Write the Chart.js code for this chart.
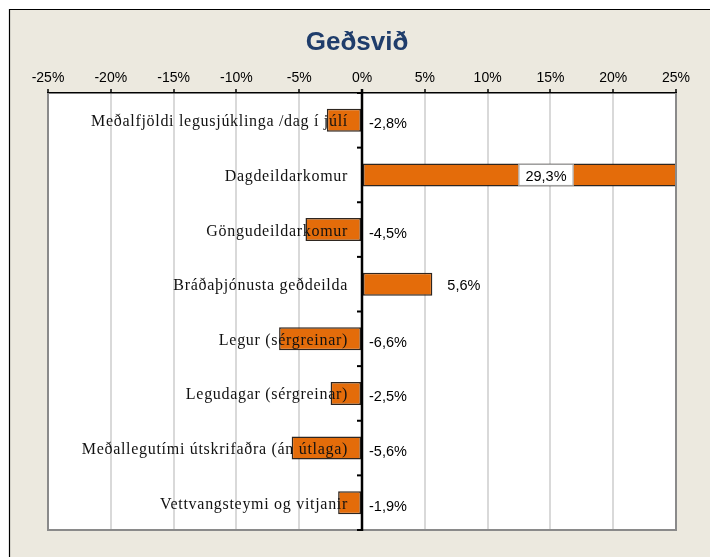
<!DOCTYPE html>
<html>
<head>
<meta charset="utf-8">
<script src="https://cdn.jsdelivr.net/npm/chart.js@4"></script>
<style>
  body { margin: 0; background: #fff; }
  canvas { display: block; }
</style>
</head>
<body>
<canvas id="chart" width="710" height="557"></canvas>
<script>
const title = 'Geðsvið';
const categories = [
  'Meðalfjöldi legusjúklinga /dag í júlí',
  'Dagdeildarkomur',
  'Göngudeildarkomur',
  'Bráðaþjónusta geðdeilda',
  'Legur (sérgreinar)',
  'Legudagar (sérgreinar)',
  'Meðallegutími útskrifaðra (án útlaga)',
  'Vettvangsteymi og vitjanir'
];
const changes = [-2.8, 29.3, -4.5, 5.6, -6.6, -2.5, -5.6, -1.9];
const axisMin = -25;
const axisMax = 25;
const axisStep = 5;

const fmtPct = v => v.toFixed(1).replace('.', ',') + '%';

// Background, frame, title, zero axis and labels
const decorations = {
  id: 'decorations',
  beforeDraw(chart) {
    const { ctx, chartArea: a } = chart;
    ctx.save();
    ctx.fillStyle = '#fff';
    ctx.fillRect(0, 0, chart.width, chart.height);
    ctx.fillStyle = '#ECE9DF';
    ctx.fillRect(9, 9, chart.width, chart.height);
    ctx.strokeStyle = '#000';
    ctx.lineWidth = 1.2;
    ctx.beginPath();
    ctx.moveTo(9.5, chart.height);
    ctx.lineTo(9.5, 9.5);
    ctx.lineTo(chart.width, 9.5);
    ctx.stroke();
    ctx.fillStyle = '#fff';
    ctx.fillRect(a.left, a.top, a.right - a.left, a.bottom - a.top);

    ctx.fillStyle = '#1F3D6B';
    ctx.font = 'bold 26px "Liberation Sans", Arial, sans-serif';
    ctx.textAlign = 'center';
    ctx.textBaseline = 'middle';
    ctx.fillText(title, 357, 43);
    ctx.restore();
  },
  afterDatasetsDraw(chart) {
    const { ctx, chartArea: a } = chart;
    const x = chart.scales.x;
    const y = chart.scales.y;
    const x0 = x.getPixelForValue(0);
    const band = (a.bottom - a.top) / categories.length;
    ctx.save();

    // plot area frame
    ctx.strokeStyle = '#8A8A8A';
    ctx.lineWidth = 2;
    ctx.beginPath();
    ctx.moveTo(a.left, a.top);
    ctx.lineTo(a.left, a.bottom);
    ctx.lineTo(a.right, a.bottom);
    ctx.lineTo(a.right, a.top);
    ctx.stroke();

    // zero axis with category ticks
    ctx.strokeStyle = '#000';
    ctx.lineWidth = 2.5;
    ctx.beginPath();
    ctx.moveTo(x0, a.top - 4);
    ctx.lineTo(x0, a.bottom + 1);
    ctx.stroke();
    ctx.lineWidth = 2;
    for (let i = 0; i <= categories.length; i++) {
      const ty = a.top + i * band;
      ctx.beginPath();
      ctx.moveTo(x0 - 5, ty);
      ctx.lineTo(x0, ty);
      ctx.stroke();
    }

    // category labels
    ctx.fillStyle = '#111';
    ctx.font = '16px "Liberation Serif", "Times New Roman", serif';
    ctx.textAlign = 'right';
    ctx.textBaseline = 'alphabetic';
    if ('letterSpacing' in ctx) ctx.letterSpacing = '0.7px';
    categories.forEach((c, i) => {
      ctx.fillText(c, x0 - 14, y.getPixelForValue(i) + 6);
    });
    if ('letterSpacing' in ctx) ctx.letterSpacing = '0px';

    // value labels
    ctx.font = '14.5px "Liberation Sans", Arial, sans-serif';
    changes.forEach((v, i) => {
      const cy = y.getPixelForValue(i);
      const txt = fmtPct(v);
      if (v > axisMax) {
        const cx = x.getPixelForValue(v / 2);
        const w = ctx.measureText(txt).width + 14;
        ctx.fillStyle = '#fff';
        ctx.fillRect(cx - w / 2, cy - 11, w, 22);
        ctx.strokeStyle = '#999';
        ctx.lineWidth = 1;
        ctx.strokeRect(cx - w / 2 + 0.5, cy - 10.5, w - 1, 21);
        ctx.fillStyle = '#000';
        ctx.textAlign = 'center';
        ctx.fillText(txt, cx, cy + 6);
      } else if (v >= 0) {
        ctx.fillStyle = '#000';
        ctx.textAlign = 'left';
        ctx.fillText(txt, x.getPixelForValue(v) + 15, cy + 6);
      } else {
        ctx.fillStyle = '#000';
        ctx.textAlign = 'left';
        ctx.fillText(txt, x0 + 7, cy + 8);
      }
    });
    ctx.restore();
  }
};

new Chart(document.getElementById('chart'), {
  type: 'bar',
  data: {
    labels: categories,
    datasets: [{
      data: changes,
      backgroundColor: '#E46C0A',
      borderColor: '#2E2620',
      borderWidth: 1.5,
      borderSkipped: false,
      barPercentage: 0.42,
      categoryPercentage: 1
    }]
  },
  options: {
    indexAxis: 'y',
    responsive: false,
    animation: false,
    layout: { padding: { left: 48, right: 34, top: 0, bottom: 27 } },
    plugins: {
      legend: { display: false },
      tooltip: { enabled: false },
      title: { display: false }
    },
    scales: {
      x: {
        position: 'top',
        min: axisMin,
        max: axisMax,
        afterFit(scale) { scale.height = 93; },
        ticks: {
          stepSize: axisStep,
          padding: 2,
          color: '#000',
          font: { family: '"Liberation Sans", Arial, sans-serif', size: 14 },
          callback: v => v + '%'
        },
        grid: {
          color: '#D9D9D9',
          lineWidth: 2,
          tickColor: '#000',
          tickLength: 4,
          tickWidth: 1.5
        },
        border: { display: true, color: '#000', width: 1.5 }
      },
      y: { display: false }
    }
  },
  plugins: [decorations]
});
</script>
</body>
</html>
